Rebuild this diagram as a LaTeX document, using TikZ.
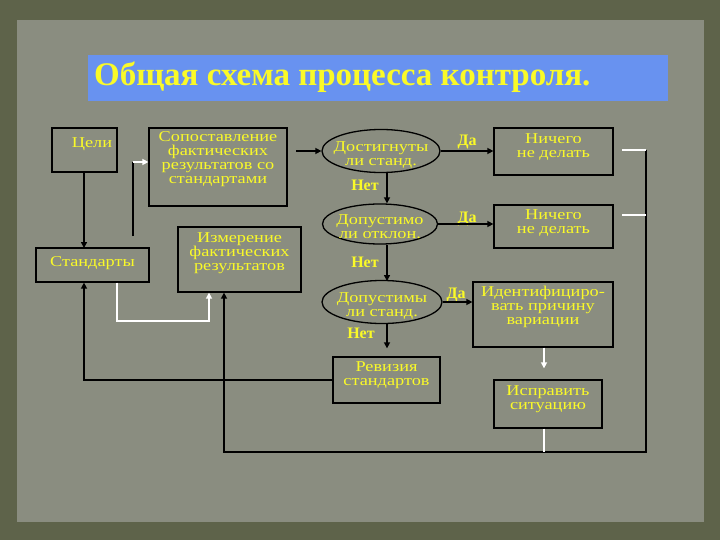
\documentclass[tikz,border=0pt]{standalone}
\usepackage{fontspec}
\setmainfont{Liberation Serif}
\newfontfamily\widefont[FakeStretch=1.22]{Liberation Serif}
\usetikzlibrary{arrows.meta,shapes.geometric}
\definecolor{outerbg}{RGB}{94,99,74}
\definecolor{paper}{RGB}{138,141,128}
\definecolor{titlebar}{RGB}{104,146,240}
\definecolor{txt}{RGB}{250,250,40}
\newcommand{\ovaltext}[1]{\raisebox{-8.5pt}[0pt][0pt]{\makebox[60pt][c]{\begin{tabular}{@{}c@{}}#1\end{tabular}}}}
\begin{document}
\begin{tikzpicture}[x=1pt,y=-1pt,
  box/.style={draw=black, line width=1.3pt, fill=paper, inner sep=0pt, text=txt,
    font=\widefont\fontsize{15}{14}\selectfont, align=center},
  oval/.style={ellipse, draw=black, line width=1.3pt, fill=paper, inner sep=0pt, text=txt,
    font=\widefont\fontsize{15}{14}\selectfont},
  lbl/.style={text=txt, font=\bfseries\fontsize{16}{16}\selectfont, inner sep=0pt},
  blk/.style={draw=black, line width=2.3pt},
  wht/.style={draw=white, line width=2.3pt},
  tip/.style={-{Triangle[length=6pt,width=6pt]}}
]
\useasboundingbox (0,0) rectangle (720,540);
\fill[outerbg] (0,0) rectangle (720,540);
\fill[paper] (17,20) rectangle (704,522);
% title
\fill[titlebar] (88,55) rectangle (668,101);
\node[anchor=west, text=txt, font=\bfseries\fontsize{33}{33}\selectfont, inner sep=0pt] (title) at (94,77) {Общая схема процесса контроля.};

% boxes
\node[box, minimum width=65pt, minimum height=44pt, text depth=14pt] (goals) at (84.5,150) {\hspace*{15pt}Цели};
\node[box, minimum width=138pt, minimum height=78pt, text depth=18pt] (comp) at (218,167) {Сопоставление\\фактических\\результатов со\\стандартами};
\node[box, minimum width=113pt, minimum height=34pt, text depth=6pt] (std) at (92.5,265) {Стандарты};
\node[box, minimum width=123pt, minimum height=65pt, text depth=16pt] (meas) at (239.5,259.5) {Измерение\\фактических\\результатов};
\node[box, minimum width=119pt, minimum height=47pt, text depth=12pt] (none1) at (553.5,151.5) {Ничего\\не делать};
\node[box, minimum width=119pt, minimum height=43pt, text depth=10pt] (none2) at (553.5,226.5) {Ничего\\не делать};
\node[box, minimum width=140pt, minimum height=65pt, text depth=18pt] (ident) at (543,314.5) {Идентифициро-\\вать причину\\вариации};
\node[box, minimum width=108pt, minimum height=48pt, text depth=12pt] (fix) at (548,404) {Исправить\\ситуацию};
\node[box, minimum width=107pt, minimum height=46pt, text depth=12pt] (rev) at (386.5,380) {Ревизия\\стандартов};

% decisions
\node[oval, minimum width=118pt, minimum height=43pt] (e1) at (381,151) {\ovaltext{Достигнуты\\ли станд.}};
\node[oval, minimum width=115pt, minimum height=40pt] (e2) at (380,224) {\ovaltext{Допустимо\\ли отклон.}};
\node[oval, minimum width=120pt, minimum height=43pt] (e3) at (382,302) {\ovaltext{Допустимы\\ли станд.}};

% labels
\node[lbl] (yes1) at (467,142) {Да};
\node[lbl] (yes2) at (467,219) {Да};
\node[lbl] (yes3) at (456,295) {Да};
\node[lbl] (no1) at (365,185) {Нет};
\node[lbl] (no2) at (365,262) {Нет};
\node[lbl] (no3) at (361,333) {Нет};

% helper coordinates
\coordinate (j1) at (133,162);
\coordinate (j2) at (133,236);
\coordinate (c1) at (296,151);
\coordinate (r1) at (646,150);
\coordinate (r2) at (646,452);
\coordinate (b1) at (224,452);
\coordinate (s1) at (622,150);
\coordinate (s2) at (622,215);
\coordinate (s3) at (646,215);
\coordinate (w1) at (117,321);
\coordinate (w2) at (209,321);
\coordinate (k1) at (84,369);

% connectors
\draw[blk, tip] (goals.south -| 84,0) -- (84,248);
\draw[blk] (j2) -- (j1);
\draw[wht, tip] (j1) -- (comp.west |- j1);
\draw[wht, tip] (std.south -| w1) -- (w1) -- (w2) -- (meas.south -| w2);
\draw[blk, tip] (rev.west) -- (rev.west -| k1) -- (std.south -| k1);
\draw[blk, tip] (r1) -- (r2) -- (b1) -- (meas.south -| b1);
\draw[wht] (fix.south -| 544,0) -- (544,452);
\draw[wht] (s1) -- (r1);
\draw[wht] (s2) -- (s3);
\draw[blk, tip] (c1) -- (e1.west);
\draw[blk, tip] (e1.east) -- (none1.west |- e1.east);
\draw[blk, tip] (e1.south -| 387,0) -- (e2.north -| 387,0);
\draw[blk, tip] (e2.east) -- (none2.west |- e2.east);
\draw[blk, tip] (e2.south -| 387,0) -- (387,281);
\draw[blk, tip] (e3.east) -- (ident.west |- e3.east);
\draw[blk, tip, shorten >=8pt] (e3.south -| 387,0) -- (rev.north -| 387,0);
\draw[wht, tip, shorten >=11pt] (ident.south -| 544,0) -- (fix.north -| 544,0);
\end{tikzpicture}
\end{document}
